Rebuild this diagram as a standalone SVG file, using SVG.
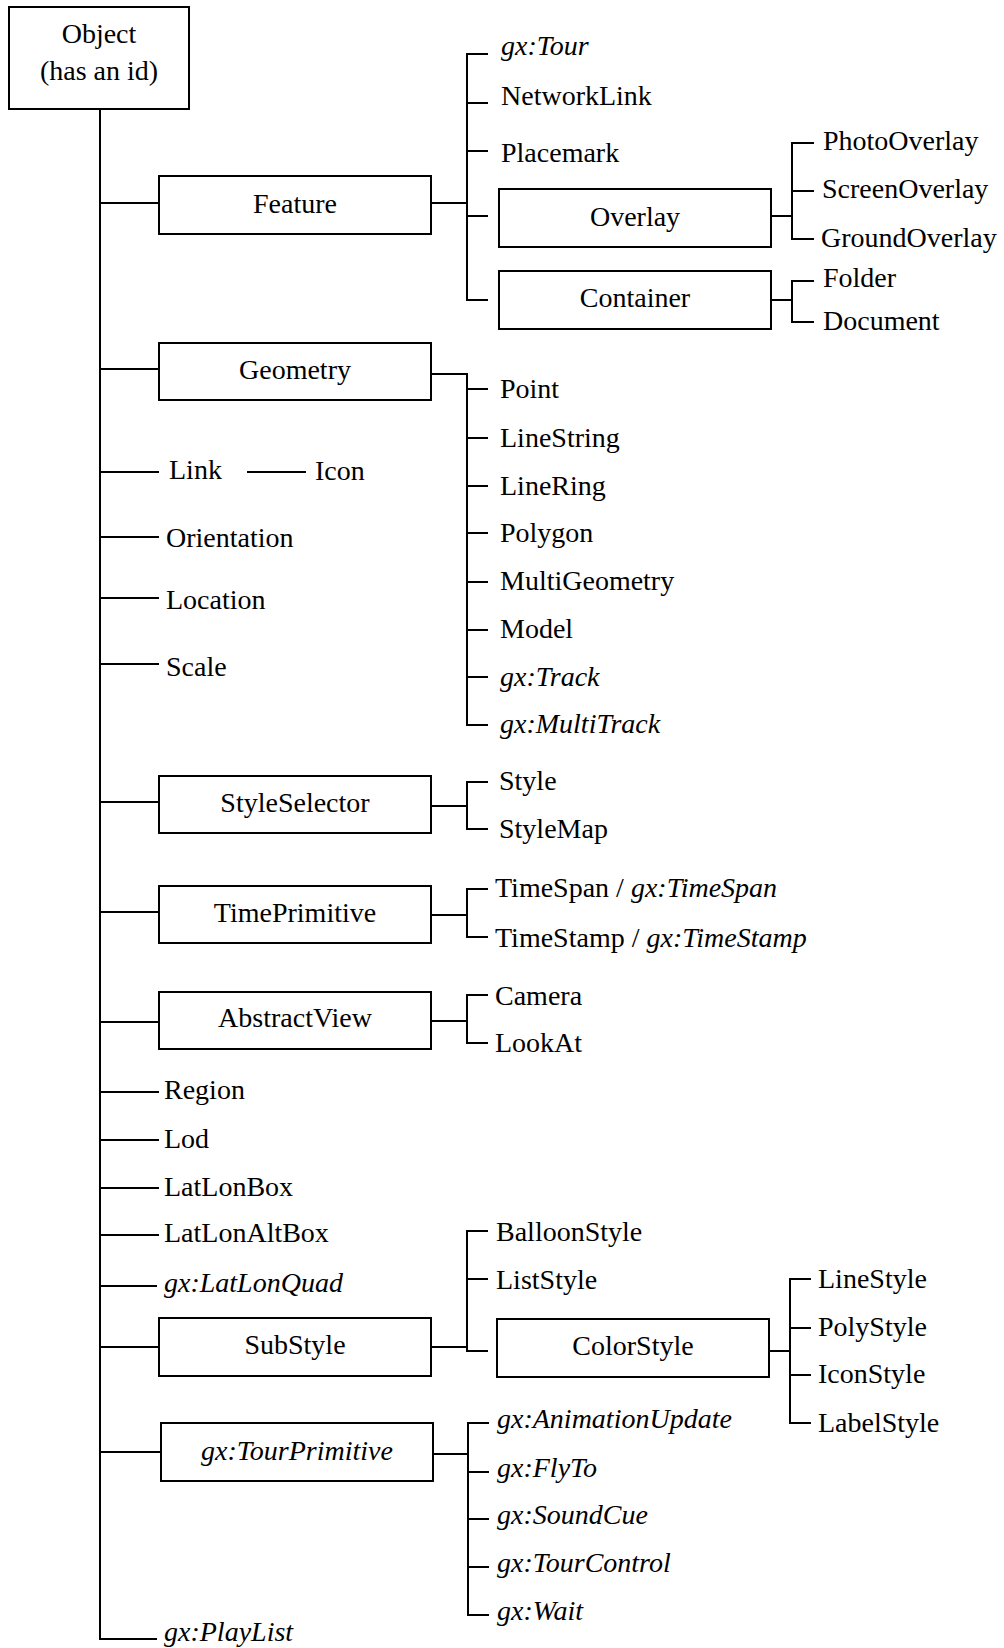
<svg xmlns="http://www.w3.org/2000/svg" width="1004" height="1648" viewBox="0 0 1004 1648">
<style>
  .box { fill: #fff; stroke: #000; stroke-width: 2; }
  .ln { fill: none; stroke: #000; stroke-width: 2; stroke-linejoin: miter; }
  text { font-family: "Liberation Serif", "Times New Roman", serif; font-size: 28px; fill: #000; }
  .c { text-anchor: middle; }
  .i { font-style: italic; }
</style>
<rect x="0" y="0" width="1004" height="1648" fill="#fff"/>
<g id="connectors" class="ln">
  <path d="M100 109 V1639 H157"/>
  <path d="M100 203 H159 M100 369 H159 M100 472 H159 M100 537 H159 M100 598 H159 M100 664 H159 M100 802 H159 M100 912 H159 M100 1022 H159 M100 1092 H159 M100 1140 H159 M100 1188 H159 M100 1235 H159 M100 1286 H157 M100 1347 H159 M100 1452 H161"/>
  <path d="M247 472 H306"/>
  <path d="M431 203 H467 M488 54 H467 V300 H488 M467 103 H488 M467 151 H488 M467 216 H488"/>
  <path d="M771 216 H792 M814 143 H792 V239 H814 M792 191 H814"/>
  <path d="M771 300 H792 M814 281 H792 V322 H814"/>
  <path d="M431 374 H467 V725 H488 M467 389 H488 M467 438 H488 M467 486 H488 M467 533 H488 M467 582 H488 M467 630 H488 M467 677 H488"/>
  <path d="M431 806 H467 M488 782 H467 V829 H488"/>
  <path d="M431 915 H467 M488 889 H467 V937 H488"/>
  <path d="M431 1021 H467 M488 995 H467 V1043 H488"/>
  <path d="M431 1347 H467 M488 1231 H467 V1351 H488 M467 1279 H488"/>
  <path d="M769 1351 H790 M811 1279 H790 V1423 H811 M790 1328 H811 M790 1375 H811"/>
  <path d="M433 1454 H468 M489 1423 H468 V1615 H489 M468 1472 H489 M468 1519 H489 M468 1567 H489"/>
</g>
<g id="object"><rect class="box" x="9" y="7" width="180" height="102"/><text class="c" x="99" y="43">Object</text><text class="c" x="99" y="80">(has an id)</text></g>
<g id="feature"><rect class="box" x="159" y="176" width="272" height="58"/><text class="c" x="295" y="213">Feature</text></g>
<g id="geometry"><rect class="box" x="159" y="343" width="272" height="57"/><text class="c" x="295" y="379">Geometry</text></g>
<g id="styleselector"><rect class="box" x="159" y="776" width="272" height="57"/><text class="c" x="295" y="812">StyleSelector</text></g>
<g id="timeprimitive"><rect class="box" x="159" y="886" width="272" height="57"/><text class="c" x="295" y="922">TimePrimitive</text></g>
<g id="abstractview"><rect class="box" x="159" y="992" width="272" height="57"/><text class="c" x="295" y="1027">AbstractView</text></g>
<g id="substyle"><rect class="box" x="159" y="1318" width="272" height="58"/><text class="c" x="295" y="1354">SubStyle</text></g>
<g id="tourprimitive"><rect class="box" x="161" y="1423" width="272" height="58"/><text class="c i" x="297" y="1460">gx:TourPrimitive</text></g>
<g id="overlay"><rect class="box" x="499" y="189" width="272" height="58"/><text class="c" x="635" y="226">Overlay</text></g>
<g id="container"><rect class="box" x="499" y="271" width="272" height="58"/><text class="c" x="635" y="307">Container</text></g>
<g id="colorstyle"><rect class="box" x="497" y="1319" width="272" height="58"/><text class="c" x="633" y="1355">ColorStyle</text></g>
<g id="gx-tour"><text class="i" x="501" y="55">gx:Tour</text></g>
<g id="networklink"><text x="501" y="105">NetworkLink</text></g>
<g id="placemark"><text x="501" y="162">Placemark</text></g>
<g id="photooverlay"><text x="823" y="150">PhotoOverlay</text></g>
<g id="screenoverlay"><text x="822" y="198">ScreenOverlay</text></g>
<g id="groundoverlay"><text x="821" y="247">GroundOverlay</text></g>
<g id="folder"><text x="823" y="287">Folder</text></g>
<g id="document"><text x="823" y="330">Document</text></g>
<g id="point"><text x="500" y="398">Point</text></g>
<g id="linestring"><text x="500" y="447">LineString</text></g>
<g id="linering"><text x="500" y="495">LineRing</text></g>
<g id="polygon"><text x="500" y="542">Polygon</text></g>
<g id="multigeometry"><text x="500" y="590">MultiGeometry</text></g>
<g id="model"><text x="500" y="638">Model</text></g>
<g id="gx-track"><text class="i" x="500" y="686">gx:Track</text></g>
<g id="gx-multitrack"><text class="i" x="500" y="733">gx:MultiTrack</text></g>
<g id="link"><text x="169" y="479">Link</text></g>
<g id="icon"><text x="315" y="480">Icon</text></g>
<g id="orientation"><text x="166" y="547">Orientation</text></g>
<g id="location"><text x="166" y="609">Location</text></g>
<g id="scale"><text x="166" y="676">Scale</text></g>
<g id="style"><text x="499" y="790">Style</text></g>
<g id="stylemap"><text x="499" y="838">StyleMap</text></g>
<g id="timespan"><text x="495" y="897">TimeSpan / <tspan class="i">gx:TimeSpan</tspan></text></g>
<g id="timestamp"><text x="495" y="947">TimeStamp / <tspan class="i">gx:TimeStamp</tspan></text></g>
<g id="camera"><text x="495" y="1005">Camera</text></g>
<g id="lookat"><text x="495" y="1052">LookAt</text></g>
<g id="region"><text x="164" y="1099">Region</text></g>
<g id="lod"><text x="164" y="1148">Lod</text></g>
<g id="latlonbox"><text x="164" y="1196">LatLonBox</text></g>
<g id="latlonaltbox"><text x="164" y="1242">LatLonAltBox</text></g>
<g id="gx-latlonquad"><text class="i" x="164" y="1292">gx:LatLonQuad</text></g>
<g id="balloonstyle"><text x="496" y="1241">BalloonStyle</text></g>
<g id="liststyle"><text x="496" y="1289">ListStyle</text></g>
<g id="linestyle"><text x="818" y="1288">LineStyle</text></g>
<g id="polystyle"><text x="818" y="1336">PolyStyle</text></g>
<g id="iconstyle"><text x="818" y="1383">IconStyle</text></g>
<g id="labelstyle"><text x="818" y="1432">LabelStyle</text></g>
<g id="gx-animationupdate"><text class="i" x="497" y="1428">gx:AnimationUpdate</text></g>
<g id="gx-flyto"><text class="i" x="497" y="1477">gx:FlyTo</text></g>
<g id="gx-soundcue"><text class="i" x="497" y="1524">gx:SoundCue</text></g>
<g id="gx-tourcontrol"><text class="i" x="497" y="1572">gx:TourControl</text></g>
<g id="gx-wait"><text class="i" x="497" y="1620">gx:Wait</text></g>
<g id="gx-playlist"><text class="i" x="164" y="1641">gx:PlayList</text></g>
</svg>
